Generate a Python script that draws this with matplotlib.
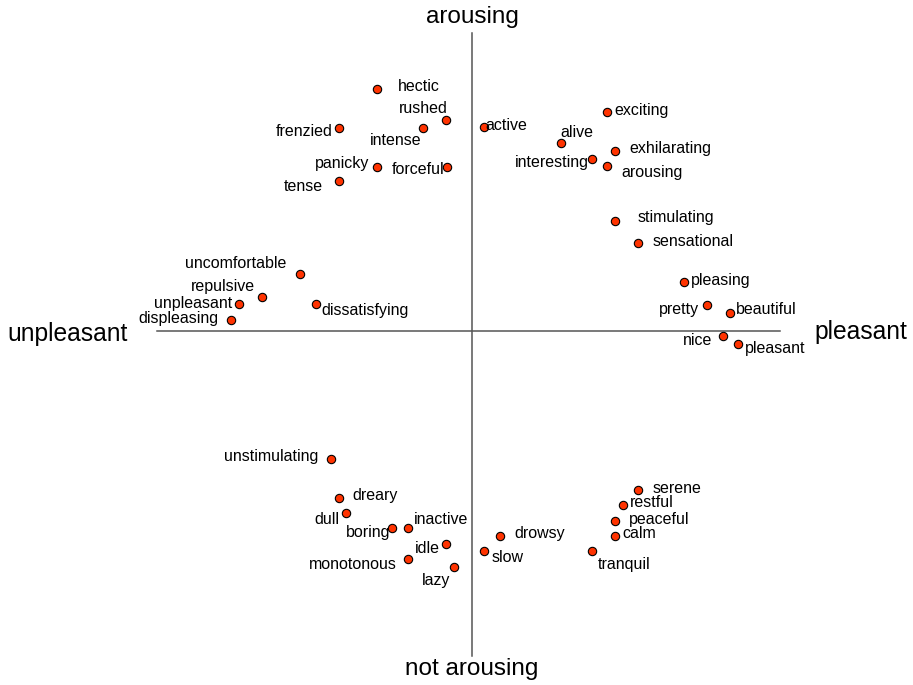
import matplotlib
matplotlib.use("Agg")
import matplotlib.pyplot as plt

plt.rcParams["font.family"] = ["Liberation Sans", "DejaVu Sans"]

# --- data: valence (x) / arousal (y) ---
words = ["hectic", "rushed", "frenzied", "intense", "panicky", "forceful", "tense",
         "active", "exciting", "alive", "exhilarating", "interesting", "arousing",
         "stimulating", "sensational", "pleasing", "pretty", "beautiful", "nice", "pleasant",
         "uncomfortable", "repulsive", "unpleasant", "displeasing", "dissatisfying",
         "unstimulating", "dreary", "dull", "boring", "inactive", "idle", "monotonous", "lazy",
         "serene", "restful", "peaceful", "calm", "drowsy", "slow", "tranquil"]
valence = [-30.7, -8.4, -43.0, -15.8, -30.7, -8.2, -43.0,
           4.0, 43.6, 28.7, 46.0, 38.8, 43.6,
           46.2, 53.6, 68.5, 75.8, 83.3, 80.9, 85.8,
           -55.4, -67.7, -75.3, -77.7, -50.4,
           -45.5, -43.0, -40.6, -25.7, -20.6, -8.4, -20.6, -5.8,
           53.6, 48.6, 46.1, 46.1, 9.0, 4.0, 38.7]
arousal = [78.0, 68.1, 65.6, 65.6, 53.0, 53.0, 48.4,
           65.7, 70.5, 60.7, 58.2, 55.6, 53.2,
           35.6, 28.3, 15.9, 8.3, 5.9, -1.6, -4.2,
           18.4, 10.9, 8.6, 3.5, 8.6,
           -41.4, -53.8, -58.6, -63.6, -63.6, -68.7, -73.5, -76.0,
           -51.3, -56.1, -61.2, -66.0, -66.1, -71.0, -71.0]

# label placement: (alignment, dx px, dy px with y down)
label_pos = {
    "hectic": ("left", 21, -4), "rushed": ("right", 2, -12), "frenzied": ("right", -6, 3),
    "intense": ("right", -2, 12), "panicky": ("right", -8, -4), "forceful": ("right", -2, 2),
    "tense": ("right", -16, 5), "active": ("left", 1, -3), "exciting": ("left", 7, -3),
    "alive": ("left", -1, -11), "exhilarating": ("left", 15, -3), "interesting": ("right", -3, 3),
    "arousing": ("left", 14, 5), "stimulating": ("left", 22, -4), "sensational": ("left", 14, -3),
    "pleasing": ("left", 7, -2), "pretty": ("right", -8, 3), "beautiful": ("left", 6, -4),
    "nice": ("right", -10, 4), "pleasant": ("left", 7, 3), "uncomfortable": ("right", -14, -11),
    "repulsive": ("right", -7, -12), "unpleasant": ("right", -6, -2), "displeasing": ("right", -13, -3),
    "dissatisfying": ("left", 6, 5), "unstimulating": ("right", -13, -4), "dreary": ("left", 14, -3),
    "dull": ("right", -7, 6), "boring": ("right", -2, 3), "inactive": ("left", 6, -10),
    "idle": ("right", -6, 4), "monotonous": ("right", -11, 5), "lazy": ("right", -4, 13),
    "serene": ("left", 14, -3), "restful": ("left", 7, -3), "peaceful": ("left", 14, -2),
    "calm": ("left", 7, -3), "drowsy": ("left", 14, -3), "slow": ("left", 7, 5),
    "tranquil": ("left", 6, 12),
}

fig = plt.figure(figsize=(9.13, 6.85), dpi=100)
ax = fig.add_axes([0, 0, 1, 1])
ax.set_xlim(-152.26, 142.26)
ax.set_ylim(-114.19, 106.77)
ax.axis("off")

# axes cross
ax.plot([-101.5, 99.4], [0, 0], color="#555555", lw=1.1, zorder=1)
ax.plot([0, 0], [-104.8, 96.1], color="#555555", lw=1.1, zorder=1)

ax.scatter(valence, arousal, s=36, color="#ff3300", edgecolors="black",
           linewidths=0.8, zorder=3)

px2pt = 0.72
for w, x, y in zip(words, valence, arousal):
    ha, dx, dy = label_pos[w]
    ax.annotate(w, (x, y), xytext=(dx * px2pt, -(dy + 1) * px2pt), textcoords="offset points",
                ha=ha, va="center", fontsize=11.5, color="black", zorder=4)

# pole labels
ax.text(0, 101.3, "arousing", ha="center", va="center", fontsize=17.5)
ax.text(0, -109.0, "not arousing", ha="center", va="center", fontsize=17.5)
ax.text(-111, -0.9, "unpleasant", ha="right", va="center", fontsize=17.7)
ax.text(110.6, -0.2, "pleasant", ha="left", va="center", fontsize=17.7)

fig.savefig("out.png", dpi=100)
